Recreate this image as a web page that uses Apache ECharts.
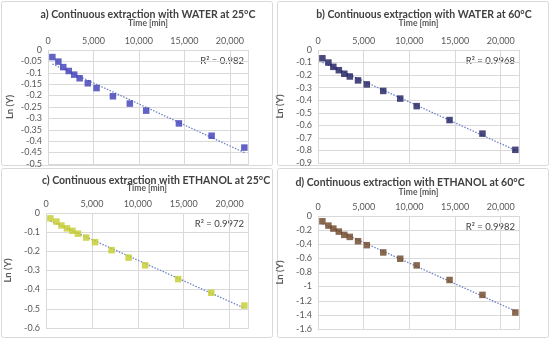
<!DOCTYPE html>
<html><head><meta charset="utf-8">
<script src="https://cdn.jsdelivr.net/npm/echarts@6/dist/echarts.min.js"></script>
<style>html,body{margin:0;padding:0;background:#fff}#c{width:550px;height:340px}</style>
</head><body><div id="c"></div>
<script>
const times = [480, 1140, 1680, 2280, 2880, 3480, 4380, 5340, 7140, 9000, 10800, 14400, 18000, 21600];
const waterAt25 = [-0.031, -0.051, -0.075, -0.092, -0.108, -0.124, -0.146, -0.167, -0.203, -0.235, -0.266, -0.322, -0.376, -0.428];
const waterAt60 = [-0.066, -0.100, -0.134, -0.161, -0.189, -0.211, -0.242, -0.274, -0.326, -0.387, -0.447, -0.558, -0.666, -0.795];
const ethanolAt25 = [-0.028, -0.045, -0.065, -0.080, -0.093, -0.108, -0.128, -0.152, -0.194, -0.233, -0.273, -0.345, -0.416, -0.483];
const ethanolAt60 = [-0.075, -0.136, -0.178, -0.221, -0.267, -0.296, -0.357, -0.413, -0.516, -0.605, -0.699, -0.906, -1.117, -1.366];
const titles = ['a) Continuous extraction with WATER at 25°C','b) Continuous extraction with WATER at 60°C','c) Continuous extraction with ETHANOL at 25°C','d) Continuous extraction with ETHANOL at 60°C'];
const r2Labels = ['R² = 0.982','R² = 0.9968','R² = 0.9972','R² = 0.9982'];
const xTicks = [0, 5000, 10000, 15000, 20000];
const yTicksA = [0, -0.05, -0.1, -0.15, -0.2, -0.25, -0.3, -0.35, -0.4, -0.45, -0.5];
const yTicksB = [0, -0.1, -0.2, -0.3, -0.4, -0.5, -0.6, -0.7, -0.8, -0.9];
const yTicksC = [0, -0.1, -0.2, -0.3, -0.4, -0.5, -0.6];
const yTicksD = [0, -0.2, -0.4, -0.6, -0.8, -1, -1.2, -1.4, -1.6];

const seriesValues = [waterAt25, waterAt60, ethanolAt25, ethanolAt60];
const yTicks = [yTicksA, yTicksB, yTicksC, yTicksD];
const yIntervals = [0.05, 0.1, 0.1, 0.2];
const colors = ['#3c3cb8', '#1b1b5e', '#c4cc2a', '#6b4423'];
const grids = [
  {left:48, top:50, width:200, height:114},
  {left:318, top:50, width:201, height:113},
  {left:46, top:213, width:202, height:115},
  {left:318, top:216, width:201, height:113}
];
const panels = [[1,1,271,164],[277,1,271,164],[1,168,271,169],[277,168,271,169]];
const titlePos = [[148,15],[424,15],[156,181],[410,183]];
const FONT = 'Lato';

function fit(xs, ys){
  const n = xs.length; let sx=0,sy=0,sxx=0,sxy=0;
  for(let i=0;i<n;i++){sx+=xs[i];sy+=ys[i];sxx+=xs[i]*xs[i];sxy+=xs[i]*ys[i];}
  const b=(n*sxy-sx*sy)/(n*sxx-sx*sx); const a=(sy-b*sx)/n; return [a,b];
}

const xAxis=[], yAxis=[], series=[], graphic=[];
panels.forEach((p,i)=>{
  graphic.push({type:'rect',z:-10,shape:{x:p[0]+0.5,y:p[1]+0.5,width:p[2],height:p[3],r:2},style:{fill:'#fff',stroke:'#d9d9d9',lineWidth:1}});
  graphic.push({type:'text',x:titlePos[i][0],y:titlePos[i][1],style:{text:titles[i],fill:'#404040',font:'bold 10.5px '+FONT,textAlign:'center',textVerticalAlign:'middle'}});
  const g=grids[i];
  graphic.push({type:'text',x:g.left+g.width-4,y:g.top+11,style:{text:r2Labels[i],fill:'#404040',font:'9.5px '+FONT,textAlign:'right',textVerticalAlign:'middle'}});
});
grids.forEach((g,i)=>{
  const yt=yTicks[i];
  const ymin=Math.min(...yt);
  xAxis.push({gridIndex:i,type:'value',position:'top',min:0,max:22000,interval:5000,
    name:'Time [min]',nameLocation:'middle',nameGap:i<2?22:(i==2?20:19),
    nameTextStyle:{fontFamily:FONT,fontSize:8.5,fontWeight:'bold',color:'#595959'},
    axisLine:{show:false},axisTick:{show:false},
    axisLabel:{fontFamily:FONT,fontSize:9,color:'#595959',margin:4,showMaxLabel:false,
      formatter:v=>xTicks.includes(v)?v.toLocaleString('en-US'):''},
    splitLine:{show:true,lineStyle:{color:'#d9d9d9',width:1}}});
  // data axis: exact range, draws gridlines
  yAxis.push({gridIndex:i,type:'value',min:ymin,max:0,interval:yIntervals[i],position:'left',
    axisLine:{show:false},axisTick:{show:false},axisLabel:{show:false},
    splitLine:{show:true,lineStyle:{color:'#d9d9d9',width:1}}});
  // label axis: same scale (a hair wider so the bottom label is not an end label)
  yAxis.push({gridIndex:i,type:'value',min:ymin*1.001,max:0,position:'left',
    name:'Ln (Y)',nameLocation:'middle',nameGap:33,nameRotate:90,
    nameTextStyle:{fontFamily:FONT,fontSize:9.5,fontWeight:'bold',color:'#595959'},
    axisLine:{show:true,lineStyle:{color:'rgba(0,0,0,0)'}},axisTick:{show:false,customValues:yt},
    axisLabel:{fontFamily:FONT,fontSize:9,color:'#595959',margin:6,customValues:yt,showMinLabel:true,showMaxLabel:true,hideOverlap:false,
      formatter:v=>String(Math.round(v*100)/100)},
    splitLine:{show:false}});
  const yIdx=i*2;
  const ys=seriesValues[i];
  const [a,b]=fit(times,ys);
  const x0=times[0], x1=times[times.length-1];
  series.push({type:'line',xAxisIndex:i,yAxisIndex:yIdx,data:[[x0,a+b*x0],[x1,a+b*x1]],symbol:'none',silent:true,
    lineStyle:{color:'#6f82c8',width:1.3,type:[1.5,1.5]},z:1});
  series.push({type:'scatter',xAxisIndex:i,yAxisIndex:yIdx,data:times.map((t,k)=>[t,ys[k]]),symbol:'rect',symbolSize:6.5,
    itemStyle:{color:colors[i]},z:3});
  graphic.push({type:'rect',z:100,shape:{x:g.left+0.5,y:g.top+0.5,width:g.width,height:g.height},style:{fill:'none',stroke:'#d9d9d9',lineWidth:1}});
});

const chart=echarts.init(document.getElementById('c'),null,{renderer:'canvas'});
chart.setOption({animation:false,backgroundColor:'#fff',grid:grids,xAxis,yAxis,series,graphic});
</script></body></html>
